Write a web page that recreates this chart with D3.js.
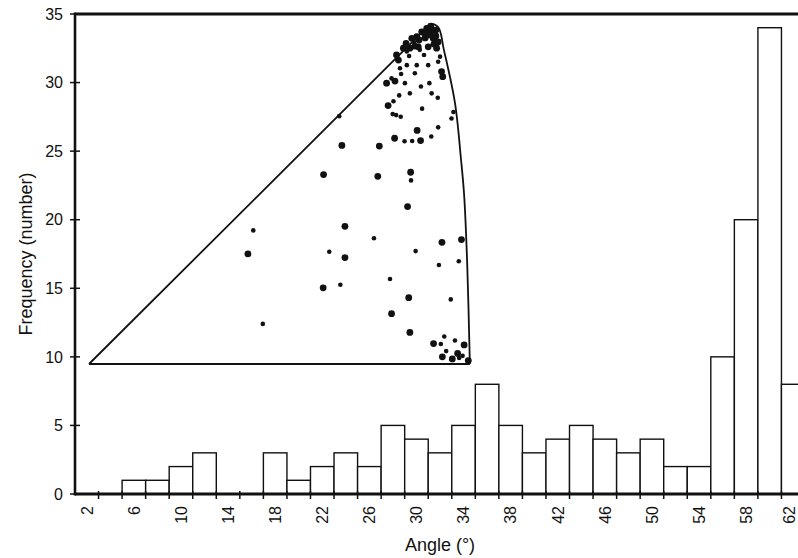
<!DOCTYPE html>
<html lang="en">
<head>
  <meta charset="UTF-8">
  <title>Angle frequency</title>
  <script src="https://d3js.org/d3.v7.min.js"></script>
  <style>
    body { margin: 0; background: #fff; }
    text { font-family: "Liberation Sans", Arial, sans-serif; fill: #111; }
  </style>
</head>
<body>
  <script>
    // histogram: angle class (deg) and number of grains
    let angles = [2, 4, 6, 8, 10, 12, 14, 16, 18, 20, 22, 24, 26, 28, 30, 32,
      34, 36, 38, 40, 42, 44, 46, 48, 50, 52, 54, 56, 58, 60, 62]
    let counts = [0, 0, 1, 1, 2, 3, 0, 0, 3, 1, 2, 3, 2, 5, 4, 3,
      5, 8, 5, 3, 4, 5, 4, 3, 4, 2, 2, 10, 20, 34, 8]
    let yTicks = [0, 5, 10, 15, 20, 25, 30, 35]

    // inset diagram, in its own 0-100 units
    let outline = [[0, 0], [88, 98.5], [89.3, 100], [91.4, 99.1], [92.9, 92.4], [95.8, 76.8],
      [97.4, 60], [98.2, 49.7], [99, 29.7], [99.7, 0]]
    let bigDots = [[61.4, 55.7], [75.6, 55.2], [84.2, 56.4], [83.4, 46.3], [41.6, 32.4], [67, 40.5],
      [67, 31.3], [92.4, 35.8], [97.5, 36.6], [61.3, 22.4], [83.7, 19.5], [79.2, 14.8], [84, 9.3],
      [90.2, 6], [98.2, 5.6], [92.5, 2.1], [95.1, 1.5], [96.5, 3.1], [99.3, 1], [66.2, 64.3],
      [76, 64.1], [80, 66.4], [86.8, 65.7], [85.9, 68.7], [78.3, 76], [77.9, 82.6], [80.1, 83.2],
      [92.3, 86], [92.6, 84.5], [80.5, 90.9], [81, 89.4], [82.3, 92.9], [83, 94.3], [84.5, 95.8],
      [85.8, 96.3], [86.2, 93.3], [87.1, 97.7], [88.4, 98.7], [89.3, 97.3], [90.1, 95.8],
      [88.8, 93.3], [91, 92.9], [89.5, 99.4], [88, 95.9], [90.3, 94.1], [90.8, 98.2],
      [89.8, 98.2], [88.7, 96.8], [90.8, 96.5], [87.7, 97.4], [86.4, 95.3], [91.4, 94.7],
      [85.3, 93.5], [84, 92.9]]
    let smallDots = [[84.3, 54], [43, 39.3], [74.6, 37], [62.9, 33], [85.5, 33.2], [91.6, 29.1],
      [96.8, 30.2], [78.8, 25], [65.8, 23.3], [94.7, 19], [45.5, 11.8], [93, 8.1], [92.1, 5.9],
      [95.8, 6.9], [93.5, 3.8], [97.8, 2.4], [96.9, 1.8], [65.5, 72.9], [82.6, 65.5], [84.6, 65.6],
      [89.6, 66.9], [91.4, 69.6], [87.2, 75.1], [95.4, 74.1], [94.9, 72.2], [79.7, 77.3],
      [79.5, 73.5], [80.4, 73.2], [81.6, 72.7], [91.3, 78.3], [81.2, 79], [79.2, 84], [82.7, 82.6],
      [86.9, 81.6], [89.1, 82.6], [89.7, 79.6], [84, 79.6], [85.3, 85.5], [81.4, 87], [83.2, 87.9],
      [85.8, 87.9], [88.8, 87.9], [83.2, 91.9], [86.6, 92.4], [91.9, 90.4], [91.4, 88.9],
      [85.1, 94.7], [83.8, 90.6], [87.7, 90.9], [81.7, 85.3]]

    let width = 798, height = 558
    let svg = d3.select('body').append('svg')
      .attr('width', width)
      .attr('height', height)

    let x = d3.scaleBand().domain(angles).range([75, 805]).padding(0)
    let y = d3.scaleLinear().domain([0, 35]).range([494, 14])

    // bars
    svg.selectAll('rect.bar')
      .data(counts)
      .enter()
      .append('rect')
      .attr('class', 'bar')
      .attr('x', (d, i) => x(angles[i]))
      .attr('y', d => y(d))
      .attr('width', x.bandwidth())
      .attr('height', d => y(0) - y(d))
      .style('fill', '#fff')
      .style('stroke', '#111')
      .style('stroke-width', 1.4)

    // inset
    let ix = d3.scaleLinear().domain([0, 100]).range([89, 471])
    let iy = d3.scaleLinear().domain([0, 100]).range([364, 24])
    let inset = svg.append('g')
    inset.append('path')
      .attr('d', d3.line().x(d => ix(d[0])).y(d => iy(d[1])).curve(d3.curveCatmullRom)(outline))
      .style('fill', 'none').style('stroke', '#111').style('stroke-width', 1.8)
    inset.append('path')
      .attr('d', d3.line().x(d => ix(d[0])).y(d => iy(d[1]))([outline[outline.length - 1], outline[0]]))
      .style('fill', 'none').style('stroke', '#111').style('stroke-width', 1.8)
    inset.selectAll('circle.big')
      .data(bigDots)
      .enter()
      .append('circle')
      .attr('cx', d => ix(d[0]))
      .attr('cy', d => iy(d[1]))
      .attr('r', 3.4)
      .style('fill', '#111')
    inset.selectAll('circle.small')
      .data(smallDots)
      .enter()
      .append('circle')
      .attr('cx', d => ix(d[0]))
      .attr('cy', d => iy(d[1]))
      .attr('r', 2.3)
      .style('fill', '#111')

    // frame lines
    svg.append('line')
      .attr('x1', 75).attr('x2', width).attr('y1', y(35)).attr('y2', y(35))
      .style('stroke', '#111').style('stroke-width', 3)
    svg.append('line')
      .attr('x1', 75).attr('x2', width).attr('y1', y(0)).attr('y2', y(0))
      .style('stroke', '#111').style('stroke-width', 3)
    svg.append('line')
      .attr('x1', 75).attr('x2', 75).attr('y1', y(35) - 1.5).attr('y2', y(0) + 1.5)
      .style('stroke', '#111').style('stroke-width', 2.6)

    // y axis ticks + labels
    svg.selectAll('line.ytick')
      .data(yTicks)
      .enter()
      .append('line')
      .attr('x1', 70).attr('x2', 80)
      .attr('y1', d => y(d)).attr('y2', d => y(d))
      .style('stroke', '#111').style('stroke-width', 1.5)
    svg.selectAll('text.ylab')
      .data(yTicks)
      .enter()
      .append('text')
      .attr('x', 63)
      .attr('y', d => y(d))
      .attr('dy', '0.36em')
      .attr('text-anchor', 'end')
      .style('font-size', '16px')
      .text(d => d)

    // x axis ticks at bin edges
    svg.selectAll('line.xtick')
      .data(angles)
      .enter()
      .append('line')
      .attr('x1', d => x(d) + x.bandwidth()).attr('x2', d => x(d) + x.bandwidth())
      .attr('y1', y(0) - 3).attr('y2', y(0) + 5)
      .style('stroke', '#111').style('stroke-width', 1.5)
    svg.selectAll('text.xlab')
      .data(angles.filter((d, i) => i % 2 == 0))
      .enter()
      .append('text')
      .attr('transform', d => {
        let cx = Math.min(x(d) + x.bandwidth() / 2, width - 9)  // keep last label inside
        return 'translate(' + cx + ',' + 506 + ') rotate(-90)'
      })
      .attr('dy', '0.36em')
      .attr('text-anchor', 'end')
      .style('font-size', '16px')
      .text(d => d)

    // axis titles
    svg.append('text')
      .attr('transform', 'translate(26,254) rotate(-90)')
      .attr('dy', '0.36em')
      .attr('text-anchor', 'middle')
      .style('font-size', '18px')
      .text('Frequency (number)')
    svg.append('text')
      .attr('x', 440)
      .attr('y', 551)
      .attr('text-anchor', 'middle')
      .style('font-size', '18px')
      .text('Angle (°)')
  </script>
</body>
</html>
